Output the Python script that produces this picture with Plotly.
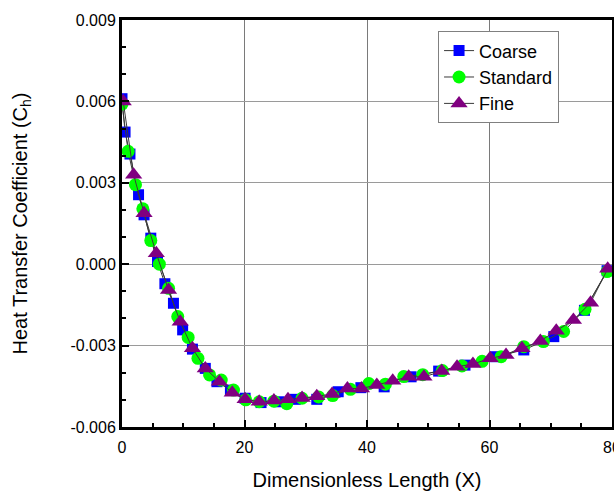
import plotly.graph_objects as go

# ---------------- data ----------------
coarse_x = [0.0, 0.5, 1.3, 2.7, 3.6, 4.7, 5.8, 7.0, 8.4, 9.9, 11.5, 13.6, 15.5, 17.7, 20.1,
            22.7, 25.6, 28.3, 31.8, 35.3, 39.0, 42.8, 47.2, 51.7, 56.0, 61.0, 65.6, 70.5,
            75.5, 79.2]
coarse_y = [0.0061, 0.00487, 0.00406, 0.00256, 0.00182, 0.00096, 0.00010, -0.00072, -0.00144,
            -0.00242, -0.00313, -0.00384, -0.00433, -0.00464, -0.00494, -0.00510, -0.00507,
            -0.00498, -0.00498, -0.00470, -0.00455, -0.00452, -0.00415, -0.00394, -0.00372,
            -0.00341, -0.00316, -0.00267, -0.00170, -0.00024]

standard_x = [0.0, 1.0, 2.2, 3.4, 4.7, 6.1, 7.6, 9.1, 10.8, 12.4, 14.3, 16.2, 18.2, 20.2,
              22.4, 24.8, 26.9, 29.4, 32.1, 34.4, 37.3, 40.3, 43.0, 46.0, 49.1, 52.3, 55.5,
              58.8, 61.9, 65.6, 68.8, 72.1, 75.6, 79.2]
standard_y = [0.0059, 0.00416, 0.00293, 0.00204, 0.00087, 0.00000, -0.00089, -0.00193,
              -0.00270, -0.00347, -0.00408, -0.00427, -0.00464, -0.00500, -0.00507, -0.00505,
              -0.00514, -0.00494, -0.00489, -0.00484, -0.00461, -0.00440, -0.00442, -0.00414,
              -0.00407, -0.00392, -0.00375, -0.00358, -0.00341, -0.00304, -0.00285, -0.00248,
              -0.00166, -0.00027]

fine_x = [0.2, 1.9, 3.6, 5.6, 7.6, 9.5, 11.5, 13.6, 15.9, 18.0, 20.1, 22.4, 24.8, 27.1, 29.4,
          31.8, 34.3, 36.8, 39.1, 41.6, 44.2, 46.8, 49.3, 52.2, 54.7, 57.3, 60.1, 62.7, 65.3,
          68.3, 70.9, 73.7, 76.5, 79.3]
fine_y = [0.0060, 0.00330, 0.00188, 0.00040, -0.00095, -0.00212, -0.00310, -0.00384, -0.00433,
          -0.00474, -0.00498, -0.00507, -0.00502, -0.00498, -0.00493, -0.00487, -0.00478,
          -0.00458, -0.00458, -0.00445, -0.00430, -0.00415, -0.00415, -0.00394, -0.00378,
          -0.00368, -0.00347, -0.00335, -0.00310, -0.00283, -0.00245, -0.00206, -0.00142,
          -0.00017]

x_ticks = [0, 20, 40, 60, 80]
x_tick_text = ["0", "20", "40", "60", "80"]
y_ticks = [-0.006, -0.003, 0.0, 0.003, 0.006, 0.009]
y_tick_text = ["-0.006", "-0.003", "0.000", "0.003", "0.006", "0.009"]

FONT = "Arial, Liberation Sans, sans-serif"
LINE = dict(color="#3a3a3a", width=1)

fig = go.Figure()
fig.add_trace(go.Scatter(x=coarse_x, y=coarse_y, mode="lines+markers", name="Coarse",
                         line=LINE,
                         marker=dict(symbol="square", size=11, color="#0000ff",
                                     line=dict(width=0))))
fig.add_trace(go.Scatter(x=standard_x, y=standard_y, mode="lines+markers", name="Standard",
                         line=LINE,
                         marker=dict(symbol="circle", size=13, color="#00ff00",
                                     line=dict(width=0))))
fig.add_trace(go.Scatter(x=fine_x, y=fine_y, mode="lines+markers", name="Fine",
                         line=LINE,
                         marker=dict(symbol="triangle-up", size=15, color="#800080",
                                     line=dict(width=0))))

fig.update_layout(
    width=614, height=495,
    margin=dict(l=122, r=2, t=20, b=68, autoexpand=False),
    paper_bgcolor="white", plot_bgcolor="white",
    font=dict(family=FONT, size=16, color="black"),
    showlegend=True,
    legend=dict(x=0.645, y=0.972, xanchor="left", yanchor="top",
                bgcolor="white", bordercolor="#808080", borderwidth=1,
                font=dict(family=FONT, size=18, color="black"),
                tracegroupgap=0, itemwidth=30),
)

fig.update_xaxes(
    range=[0, 80], tickvals=x_ticks, ticktext=x_tick_text,
    showline=True, linecolor="black", linewidth=3, mirror=True,
    ticks="inside", ticklen=7, tickwidth=2, tickcolor="black",
    showgrid=True, gridcolor="#7a7a7a", gridwidth=1, zeroline=False,
    minor=dict(dtick=5, ticks="inside", ticklen=4, tickwidth=2, tickcolor="black",
               showgrid=False),
    tickfont=dict(family=FONT, size=16, color="black"),
    ticklabeloverflow="allow", ticklabelstandoff=4,
    title=dict(text="Dimensionless Length (X)", font=dict(family=FONT, size=20, color="black"),
               standoff=18),
    automargin=False,
)
fig.update_yaxes(
    range=[-0.006, 0.009], tickvals=y_ticks, ticktext=y_tick_text,
    showline=True, linecolor="black", linewidth=3, mirror=True,
    ticks="inside", ticklen=7, tickwidth=2, tickcolor="black",
    showgrid=True, gridcolor="#9a9a9a", gridwidth=1, zeroline=False,
    minor=dict(dtick=0.001, tick0=0, ticks="inside", ticklen=4, tickwidth=2,
               tickcolor="black", showgrid=False),
    tickfont=dict(family=FONT, size=16, color="black"),
    title=dict(text="Heat Transfer Coefficient (C<sub>h</sub>)",
               font=dict(family=FONT, size=20, color="black"), standoff=38),
    automargin=False,
)

fig.write_html(
    "out.html",
    config={"displayModeBar": False},
    post_script="document.body.style.margin='0';document.body.style.overflow='hidden';",
)
